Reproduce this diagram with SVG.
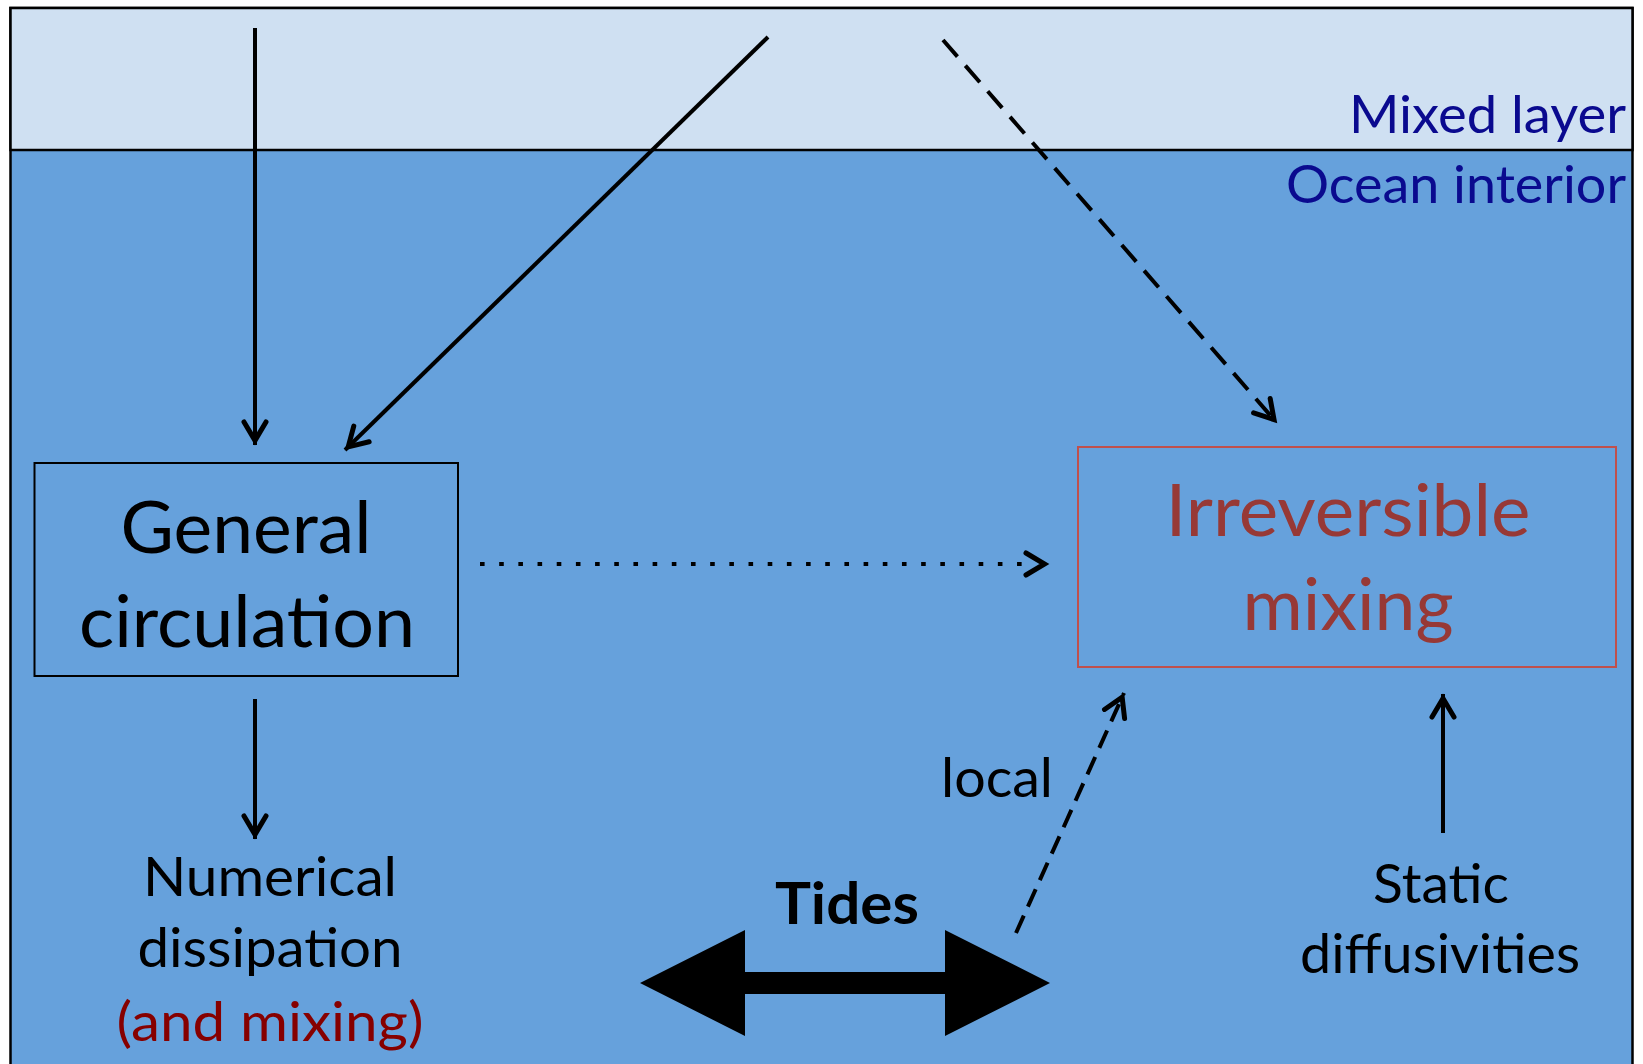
<svg xmlns="http://www.w3.org/2000/svg" width="1643" height="1064" viewBox="0 0 1643 1064">
<style>
.t{font-family:Lato,"Open Sans","Liberation Sans",sans-serif;fill:#000;}
.c{text-anchor:middle;}
.ln{fill:none;stroke:#000;stroke-width:4;}
</style>
<defs>
<marker id="ah" markerUnits="userSpaceOnUse" viewBox="-30 -15 36 30" markerWidth="36" markerHeight="30" refX="0" refY="0" orient="auto">
<path d="M-23,-11 L-4.5,0 L-23,11" fill="none" stroke="#000" stroke-width="5" stroke-linejoin="miter" stroke-linecap="round"/>
</marker>
</defs>
<rect width="1643" height="1064" fill="#fff"/>
<g id="background">
<rect x="10.5" y="8" width="1622" height="1070" fill="#66A1DC" stroke="#000" stroke-width="2.5"/>
<rect x="10.5" y="8" width="1622" height="142" fill="#CFE0F2" stroke="#000" stroke-width="2.5"/>
</g>
<g id="layer-labels">
<text class="t" x="1626" y="133" font-size="52" text-anchor="end" style="fill:#0A0A8F" textLength="277" lengthAdjust="spacingAndGlyphs">Mixed layer</text>
<text class="t" x="1626" y="203" font-size="52" text-anchor="end" style="fill:#0A0A8F" textLength="340" lengthAdjust="spacingAndGlyphs">Ocean interior</text>
</g>
<g id="connectors">
<path class="ln" d="M255,28 V445" marker-end="url(#ah)"/>
<path class="ln" d="M768,37 L345,450" marker-end="url(#ah)"/>
<path class="ln" d="M943,40 L1277,423" stroke-dasharray="22 12" stroke-width="4.6" marker-end="url(#ah)"/>
<path class="ln" d="M480,564 H1049" stroke-width="4.6" stroke-dasharray="4.6 14.58 4.6 14.58 4.6 14.58 4.6 14.58 4.6 14.58 4.6 14.58 4.6 14.58 4.6 14.58 4.6 14.58 4.6 14.58 4.6 14.58 4.6 14.58 4.6 14.58 4.6 14.58 4.6 14.58 4.6 14.58 4.6 14.58 4.6 14.58 4.6 14.58 4.6 14.58 4.6 14.58 4.6 14.58 4.6 14.58 4.6 14.58 4.6 14.58 4.6 14.58 4.6 14.58 4.6 14.58 4.6 200" marker-end="url(#ah)"/>
<path class="ln" d="M255,699 V839" marker-end="url(#ah)"/>
<path class="ln" d="M1016,933 L1124,693" stroke-dasharray="19 10" stroke-width="4.2" marker-end="url(#ah)"/>
<path class="ln" d="M1443,833 V694" marker-end="url(#ah)"/>
</g>
<g id="general-circulation">
<rect x="34.5" y="463" width="423.5" height="213" fill="none" stroke="#000" stroke-width="2"/>
<text class="t c" x="246" y="553" font-size="71" textLength="251" lengthAdjust="spacingAndGlyphs">General</text>
<text class="t c" x="247" y="647" font-size="71" textLength="336" lengthAdjust="spacingAndGlyphs">circulation</text>
</g>
<g id="irreversible-mixing">
<rect x="1078" y="447" width="538" height="220" fill="none" stroke="#C0504D" stroke-width="2"/>
<text class="t c" x="1348" y="536" font-size="71" style="fill:#973936" textLength="365" lengthAdjust="spacingAndGlyphs">Irreversible</text>
<text class="t c" x="1348" y="630" font-size="71" style="fill:#973936" textLength="211" lengthAdjust="spacingAndGlyphs">mixing</text>
</g>
<g id="numerical-dissipation">
<text class="t c" x="270" y="896" font-size="54" textLength="254" lengthAdjust="spacingAndGlyphs">Numerical</text>
<text class="t c" x="270" y="967" font-size="54" textLength="265" lengthAdjust="spacingAndGlyphs">dissipation</text>
<text class="t c" x="270" y="1041" font-size="54" style="fill:#860000" textLength="307" lengthAdjust="spacingAndGlyphs">(and mixing)</text>
</g>
<g id="local-label">
<text class="t" x="941" y="797" font-size="54" textLength="112" lengthAdjust="spacingAndGlyphs">local</text>
</g>
<g id="tides">
<text class="t c" x="847" y="924" font-size="58" font-weight="bold" textLength="144" lengthAdjust="spacingAndGlyphs">Tides</text>
<polygon points="640,983 745,930 745,972 945,972 945,930 1050,983 945,1036 945,994 745,994 745,1036" fill="#000"/>
</g>
<g id="static-diffusivities">
<text class="t c" x="1441" y="903" font-size="54" textLength="136" lengthAdjust="spacingAndGlyphs">Static</text>
<text class="t c" x="1440" y="973" font-size="54" textLength="280" lengthAdjust="spacingAndGlyphs">diffusivities</text>
</g>
</svg>
